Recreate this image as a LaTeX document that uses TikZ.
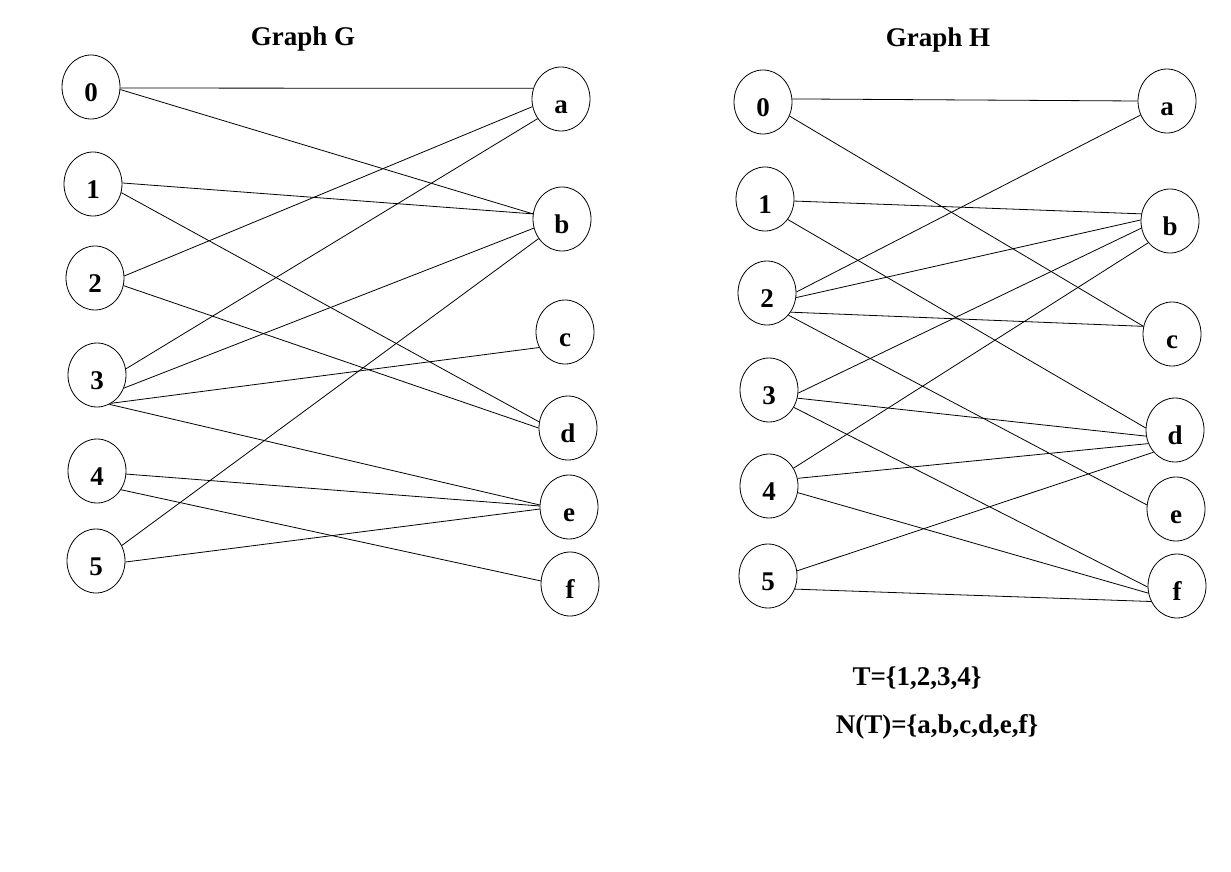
\documentclass[tikz,border=0pt]{standalone}
\usepackage{fontspec}
\setmainfont{Liberation Serif}
\usetikzlibrary{shapes.geometric}

\begin{document}
\begin{tikzpicture}[x=1pt,y=-1pt]
\tikzstyle{vertex} = [ellipse, draw, line width=0.8pt, minimum width=58pt, minimum height=64pt, inner sep=0pt, text height=29pt, text depth=0pt, font=\bfseries\fontsize{27}{32}\selectfont]
\tikzstyle{edge} = [line width=0.8pt]
\tikzstyle{caption} = [anchor=base, inner sep=0pt, font=\bfseries\fontsize{27}{32}\selectfont]
\useasboundingbox (0,0) rectangle (1231,872);
% Graph G
\node[caption] (titleG) at (303,46) {Graph G};
\node[vertex] (g0) at (91,87) {0};
\node[vertex] (g1) at (93,184) {1};
\node[vertex] (g2) at (95,278) {2};
\node[vertex] (g3) at (97,375) {3};
\node[vertex] (g4) at (97,471) {4};
\node[vertex] (g5) at (96,561) {5};
\node[vertex] (ga) at (561,99) {a};
\node[vertex] (gb) at (562,219) {b};
\node[vertex] (gc) at (565,332) {c};
\node[vertex] (gd) at (568,428) {d};
\node[vertex] (ge) at (569,507) {e};
\node[vertex] (gf) at (570,584) {f};
\draw[edge] (g0.-2) -- (ga.159);
\draw[edge] (g0.-5) -- (gb.170);
\draw[edge] (g1.2) -- (gb.170);
\draw[edge] (g1.-17) -- (gd.168);
\draw[edge] (g2.4) -- (ga.195);
\draw[edge] (g2.-15) -- (gd.180);
\draw[edge] (g3.12) -- (ga.220);
\draw[edge] (g3.-26) -- (gb.198);
\draw[edge] (g3.-63) -- (gc.211);
\draw[edge] (g3.-67) -- (ge.176);
\draw[edge] (g4.-6) -- (ge.178);
\draw[edge] (g4.-38) -- (gf.174);
\draw[edge] (g5.31) -- (gb.220);
\draw[edge] (g5.-2) -- (ge.184);
% Graph H
\node[caption] (titleH) at (938,47) {Graph H};
\node[vertex] (h0) at (763,102) {0};
\node[vertex] (h1) at (765,199) {1};
\node[vertex] (h2) at (767,293) {2};
\node[vertex] (h3) at (769,390) {3};
\node[vertex] (h4) at (769,486) {4};
\node[vertex] (h5) at (768,576) {5};
\node[vertex] (ha) at (1167,101) {a};
\node[vertex] (hb) at (1170,221) {b};
\node[vertex] (hc) at (1172,334) {c};
\node[vertex] (hd) at (1175,430) {d};
\node[vertex] (he) at (1176,509) {e};
\node[vertex] (hf) at (1177,586) {f};
\draw[edge] (h0.6) -- (ha.180);
\draw[edge] (h0.-28) -- (hc.165);
\draw[edge] (h1.-4) -- (hb.166);
\draw[edge] (h1.-42) -- (hd.176);
\draw[edge] (h2.2) -- (ha.208);
\draw[edge] (h2.-9) -- (hb.178);
\draw[edge] (h2.-39) -- (hc.165);
\draw[edge] (h2.-46) -- (he.172);
\draw[edge] (h3.-6) -- (hb.194);
\draw[edge] (h3.-16) -- (hd.192);
\draw[edge] (h3.-35) -- (hf.182);
\draw[edge] (h4.36) -- (hb.225);
\draw[edge] (h4.15) -- (hd.207);
\draw[edge] (h4.-13) -- (hf.194);
\draw[edge] (h5.10) -- (hd.226);
\draw[edge] (h5.-26) -- (hf.211);
% sets
\node[caption] (setT) at (917,685) {T=\{1,2,3,4\}};
\node[caption] (setN) at (937,733) {N(T)=\{a,b,c,d,e,f\}};
\end{tikzpicture}
\end{document}
